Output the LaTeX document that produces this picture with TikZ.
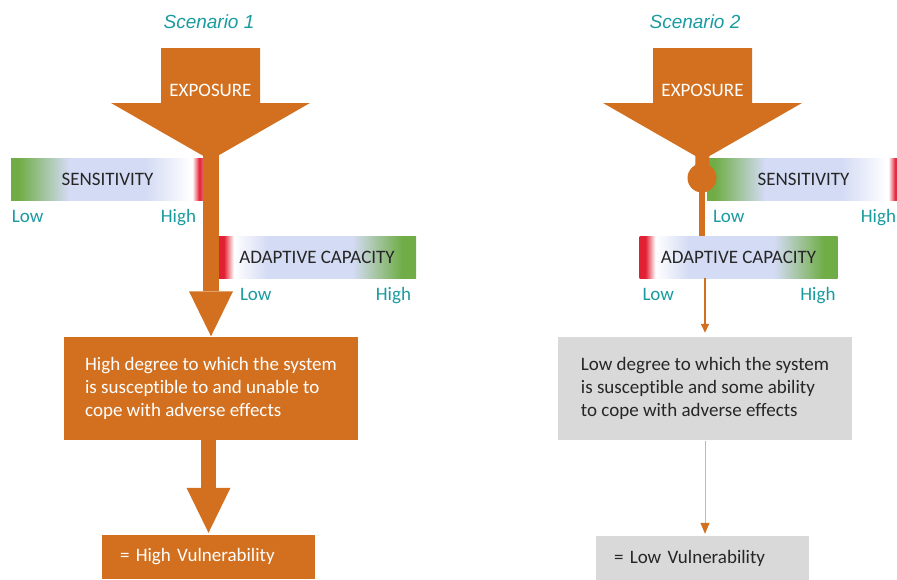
\documentclass[tikz,border=0pt]{standalone}
\usepackage{fontspec}
\setmainfont{Carlito}[Ligatures=NoCommon]
\newfontfamily\titlefont{Liberation Sans}
\usetikzlibrary{arrows.meta, positioning}

\definecolor{expo}{RGB}{210,112,32}
\definecolor{scenteal}{RGB}{25,155,160}
\definecolor{bargreen}{RGB}{112,173,71}
\definecolor{barlav}{RGB}{212,219,244}
\definecolor{barred}{RGB}{226,32,52}
\definecolor{barpink}{RGB}{236,120,130}
\definecolor{boxgrey}{RGB}{217,217,217}
\definecolor{inktext}{RGB}{38,38,38}

\pgfdeclarehorizontalshading{sensshade}{100bp}{color(0bp)=(bargreen); color(25bp)=(bargreen); color(27bp)=(bargreen); color(40bp)=(barlav); color(60bp)=(barlav); color(71.5bp)=(white); color(72bp)=(white); color(73.8bp)=(barred); color(75bp)=(barpink); color(100bp)=(barpink)}
\pgfdeclarehorizontalshading{adapshade}{100bp}{color(0bp)=(barred); color(25bp)=(barred); color(26.5bp)=(barred); color(29bp)=(white); color(37.5bp)=(barlav); color(59bp)=(barlav); color(71.5bp)=(bargreen); color(100bp)=(bargreen)}

\begin{document}
\begin{tikzpicture}[x=1pt, y=-1pt,
    every node/.style={font=\fontsize{19}{23}\selectfont},
    scenario/.style={font=\titlefont\itshape\fontsize{19}{23}\selectfont, text=scenteal},
    barlabel/.style={rectangle, minimum width=193pt, minimum height=42pt, inner sep=0pt, text=inktext},
    sensbar/.style={barlabel, shade, shading=sensshade},
    adapbar/.style={barlabel, minimum width=198pt, shade, shading=adapshade},
    lvl/.style={inner sep=0pt, text=scenteal},
    effect/.style={rectangle, fill=expo, text=white, minimum width=294pt, minimum height=103pt, align=left},
    mild/.style={effect, fill=boxgrey, text=inktext},
    verdict/.style={rectangle, fill=expo, text=white, minimum width=213pt, minimum height=44pt, text width=177pt, inner xsep=18pt, align=left},
    calm/.style={verdict, fill=boxgrey, text=inktext},
    bigarrow/.style={draw=expo, line width=16pt, -{Triangle[width=44pt, length=45pt, line width=0pt]}},
    thinarrow/.style={draw=expo, line width=1.5pt, -{Triangle[width=8pt, length=9pt]}, shorten >=2pt},
    faintarrow/.style={draw=expo!55, line width=1pt, -{Triangle[width=9pt, length=11pt, color=expo]}, shorten >=2pt}
]
\useasboundingbox (0,0) rectangle (897,579);
\clip (0,0) rectangle (897,579);

% titles
\node[scenario] (sc1) at (209,22) {Scenario 1};
\node[scenario] (sc2) at (695,22) {Scenario 2};

% exposure funnels
\foreach \cx/\n in {210.5/1, 702.5/2} {
  \fill[expo] (\cx-49.5,48) -- (\cx+49.5,48) -- (\cx+49.5,103) -- (\cx+99.5,103)
    -- (\cx,160) -- (\cx-99.5,103) -- (\cx-49.5,103) -- cycle;
  \node[text=white] (exp\n) at (\cx,90) {EXPOSURE};
  \coordinate (tip\n) at (\cx,150);
}

% scenario 1
\node[sensbar] (sens1) at (107.5,179) {SENSITIVITY};
\node[lvl, anchor=base west] (sens1lo) at ([xshift=1pt,yshift=-22pt]sens1.south west) {Low};
\node[lvl, anchor=base east] (sens1hi) at ([xshift=-8pt,yshift=-22pt]sens1.south east) {High};
\node[adapbar] (adap1) at (317,257) {ADAPTIVE CAPACITY};
\node[lvl, anchor=base west] (adap1lo) at ([xshift=22pt,yshift=-22pt]adap1.south west) {Low};
\node[lvl, anchor=base east] (adap1hi) at ([xshift=-5pt,yshift=-22pt]adap1.south east) {High};

\node[effect] (hi1) at (211,388) {High degree to which the system\\is susceptible to and unable to\\cope with adverse effects};
\node[verdict] (hv1) at (208.5,557) {= High Vulnerability};

\draw[bigarrow] (hi1.north |- tip1) -- (hi1.north);
\draw[bigarrow, line width=15pt, shorten >=2pt] (hi1.south -| hv1.north) -- (hv1.north);

% scenario 2
\node[sensbar] (sens2) at (803.5,179) {SENSITIVITY};
\node[lvl, anchor=base west] (sens2lo) at ([xshift=6pt,yshift=-22pt]sens2.south west) {Low};
\node[lvl, anchor=base east] (sens2hi) at ([xshift=-4pt,yshift=-22pt]sens2.south east) {High};
\node[adapbar] (adap2) at (738.5,257) {ADAPTIVE CAPACITY};
\node[lvl, anchor=base west] (adap2lo) at ([xshift=3pt,yshift=-22pt]adap2.south west) {Low};
\node[lvl, anchor=base east] (adap2hi) at ([xshift=-2pt,yshift=-22pt]adap2.south east) {High};

\node[mild] (lo2) at (705,388) {Low degree to which the system\\is susceptible and some ability\\to cope with adverse effects};
\node[calm] (lv2) at (702.5,558) {= Low Vulnerability};

\coordinate (knot2) at (702,178);
\draw[expo, line width=14pt] (tip2) -- (knot2);
\draw[expo, line width=6pt] (knot2) -- (adap2.north -| knot2);
\node[circle, fill=expo, minimum size=29pt, inner sep=0pt] (dot2) at (knot2) {};
\draw[thinarrow] (adap2.south -| lo2.north) -- ([yshift=1.5pt]lo2.north);
\draw[faintarrow] ([yshift=-1.5pt]lo2.south) -- (lo2.south |- lv2.north);
\end{tikzpicture}
\end{document}
